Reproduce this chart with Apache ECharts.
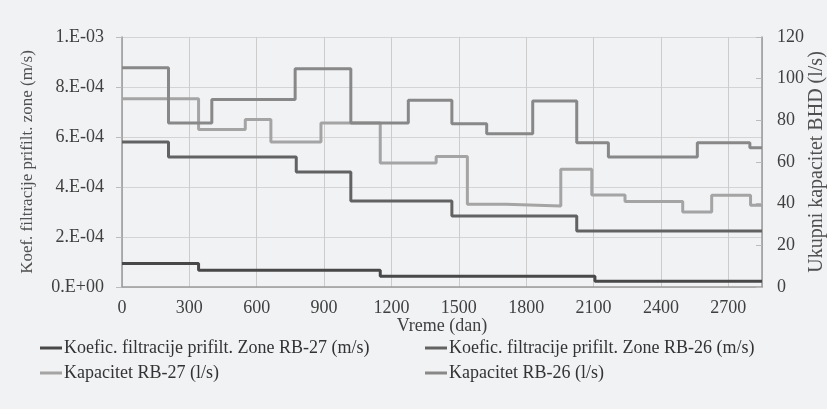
<!DOCTYPE html>
<html><head><meta charset="utf-8">
<script src="https://cdn.jsdelivr.net/npm/echarts@6/dist/echarts.min.js"></script>
<style>html,body{margin:0;padding:0;background:#f1f2f4;overflow:hidden}#c{width:827px;height:409px}</style>
</head><body><div id="c"></div>
<script>
// Koeficijent filtracije (m/s) - day where each step starts, and its value
const koefRB27Days = [0, 341, 1150, 2106, 2850];
const koefRB27Vals = [9.4e-5, 6.7e-5, 4.3e-5, 2.3e-5, 2.3e-5];
const koefRB26Days = [0, 207, 776, 1019, 1469, 2025, 2850];
const koefRB26Vals = [5.8e-4, 5.2e-4, 4.6e-4, 3.44e-4, 2.84e-4, 2.24e-4, 2.24e-4];
// Kapacitet (l/s)
const kapRB27Days = [0, 341, 549, 663, 886, 1150, 1399, 1538, 1710, 1954, 2092, 2240, 2497, 2626, 2799, 2850];
const kapRB27Vals = [90.4, 75.6, 80.4, 69.6, 78.7, 59.5, 62.7, 39.7, 38.9, 56.5, 44.2, 41.1, 36.0, 44.0, 39.2, 39.2];
const kapRB26Days = [0, 207, 400, 771, 1019, 1275, 1469, 1624, 1829, 2025, 2166, 2562, 2796, 2850];
const kapRB26Vals = [105.3, 78.7, 90.0, 104.8, 78.7, 89.6, 78.4, 73.6, 89.3, 69.3, 62.4, 69.3, 66.9, 66.9];

const names = [
  'Koefic. filtracije prifilt. Zone RB-27 (m/s)',
  'Koefic. filtracije prifilt. Zone RB-26 (m/s)',
  'Kapacitet RB-27 (l/s)',
  'Kapacitet RB-26 (l/s)'
];
const colors = ['#484848', '#626262', '#a4a4a4', '#888888'];
const xTicks = [0, 300, 600, 900, 1200, 1500, 1800, 2100, 2400, 2700];

function pairs(d, v) { return d.map((x, i) => [x, v[i]]); }
const FONT = '"Liberation Serif", "DejaVu Serif", serif';
const TXT = '#404040';

function expFmt(v) {
  if (v === 0) return '0.E+00';
  const e = Math.floor(Math.round(Math.log10(v) * 1e6) / 1e6);
  const m = Math.round(v / Math.pow(10, e));
  return m + '.E-' + String(-e).padStart(2, '0');
}

const chart = echarts.init(document.getElementById('c'), null, {renderer: 'canvas'});
const lineSeries = (i, data, yIdx) => ({
  name: names[i], type: 'line', step: 'end', yAxisIndex: yIdx,
  data: data, symbol: 'none', showSymbol: false,
  lineStyle: {color: colors[i], width: 3}, itemStyle: {color: colors[i]},
  z: yIdx === 0 ? 3 : 2
});
const legendCommon = {
  orient: 'vertical', itemWidth: 22, itemHeight: 3, itemGap: 7, padding: 0,
  icon: 'rect',
  textStyle: {fontFamily: FONT, fontSize: 18, color: '#333', padding: [0, 0, 0, -3]}
};
chart.setOption({
  backgroundColor: '#f1f2f4',
  animation: false,
  grid: {left: 122, right: 65, top: 37, bottom: 122, containLabel: false, outerBoundsMode: 'none'},
  legend: [
    Object.assign({left: 40, top: 339, data: [names[0], names[2]]}, legendCommon),
    Object.assign({left: 425, top: 339, data: [names[1], names[3]]}, legendCommon)
  ],
  xAxis: {
    type: 'value', min: 0, max: 2850, interval: 300,
    name: 'Vreme (dan)', nameLocation: 'middle', nameGap: 30, nameMoveOverlap: false,
    nameTextStyle: {fontFamily: FONT, fontSize: 18, color: TXT},
    axisLine: {show: true, lineStyle: {color: '#9a9a9a', width: 1.5}},
    axisTick: {show: false},
    axisLabel: {fontFamily: FONT, fontSize: 18, color: TXT, margin: 12, showMaxLabel: false,
      formatter: v => xTicks.indexOf(v) >= 0 ? String(v) : ''},
    splitLine: {show: true, lineStyle: {color: '#cccccc', width: 1}}
  },
  yAxis: [
    {
      type: 'value', min: 0, max: 0.001, interval: 0.0002, position: 'left',
      name: 'Koef. filtracije prifilt. zone (m/s)', nameLocation: 'middle', nameRotate: 90, nameGap: 86,
      nameMoveOverlap: false,
      nameTextStyle: {fontFamily: FONT, fontSize: 17, color: '#505050'},
      axisLine: {show: true, lineStyle: {color: '#9a9a9a', width: 1.5}},
      axisTick: {show: true, length: 6, lineStyle: {color: '#bbb'}},
      axisLabel: {fontFamily: FONT, fontSize: 18, color: TXT, margin: 18, formatter: expFmt},
      splitLine: {show: true, lineStyle: {color: '#d4d4d4', width: 1}}
    },
    {
      type: 'value', min: 0, max: 120, interval: 20, position: 'right',
      name: 'Ukupni kapacitet BHD (l/s)', nameLocation: 'middle', nameRotate: 90, nameGap: 45,
      nameMoveOverlap: false,
      nameTextStyle: {fontFamily: FONT, fontSize: 20, color: '#505050'},
      axisLine: {show: true, lineStyle: {color: '#9a9a9a', width: 1.5}},
      axisTick: {show: true, inside: true, length: 6, lineStyle: {color: '#bbb'}},
      axisLabel: {fontFamily: FONT, fontSize: 18, color: TXT, margin: 15},
      splitLine: {show: false}
    }
  ],
  series: [
    lineSeries(2, pairs(kapRB27Days, kapRB27Vals), 1),
    lineSeries(3, pairs(kapRB26Days, kapRB26Vals), 1),
    lineSeries(0, pairs(koefRB27Days, koefRB27Vals), 0),
    lineSeries(1, pairs(koefRB26Days, koefRB26Vals), 0)
  ]
});
</script></body></html>
